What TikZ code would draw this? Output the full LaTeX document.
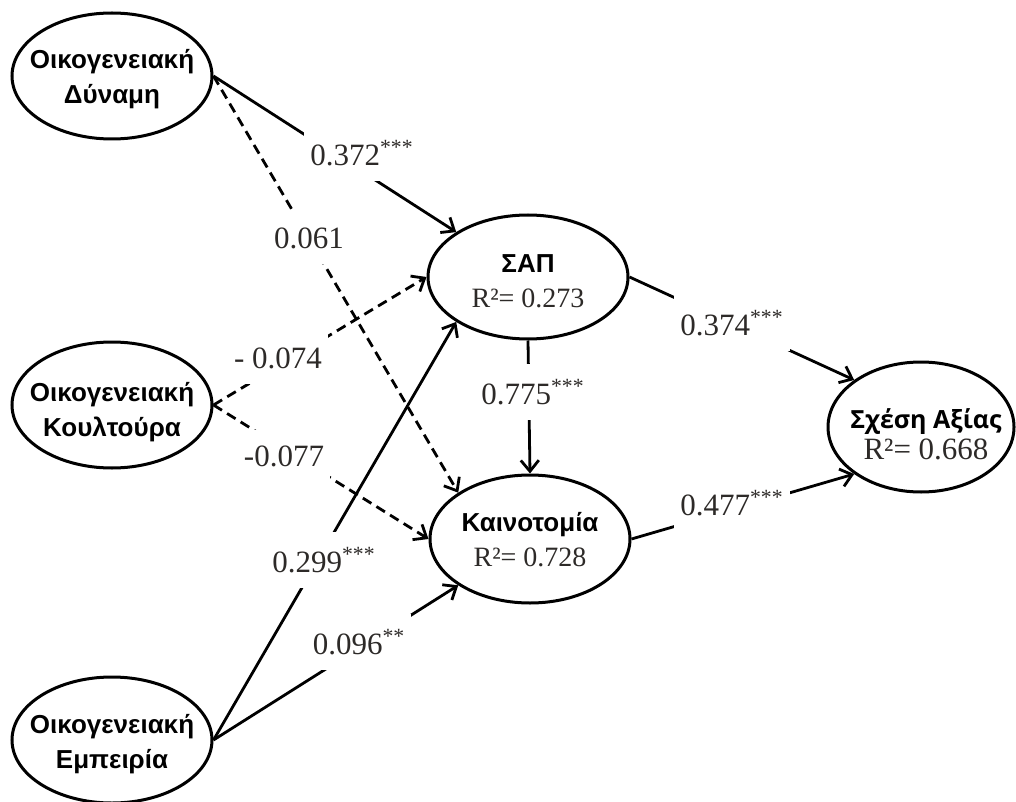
\documentclass[tikz,border=0pt]{standalone}
\usepackage{fontspec}
\setmainfont{Liberation Serif}
\newfontfamily\varfont{Liberation Sans}
\newfontfamily\depfont{Open Sans}
\usepackage{tikz}
\usetikzlibrary{shapes.geometric, arrows.meta}
\definecolor{numgray}{RGB}{45,42,40}
\newcommand{\rsq}[2][14]{{\rmfamily\mdseries\fontsize{#1}{#1}\selectfont\color{numgray}R²= #2}}

\tikzset{
  latent/.style={ellipse, draw=black, line width=1.5pt, minimum width=100pt, minimum height=63pt, inner sep=0pt},
  vname/.style={align=center, inner sep=0pt, font=\varfont\bfseries\fontsize{13}{17.5}\selectfont},
  coef/.style={fill=white, inner xsep=3pt, inner ysep=7.5pt, text=numgray, font=\fontsize{15.5}{16}\selectfont},
  path/.style={line width=1.4pt, -{Straight Barb[length=5.5pt,width=9pt]}},
  nspath/.style={path, dash pattern=on 5pt off 3pt}
}

\begin{document}
\begin{tikzpicture}[x=0.5pt,y=-0.5pt]
\useasboundingbox (0,0) rectangle (1016,802);

% latent variables
\node[latent] (dyn) at (112,76) {};
\node[latent] (kou) at (112,405) {};
\node[latent] (emp) at (112,740) {};
\node[latent, minimum height=62pt] (sap) at (528,277) {};
\node[latent, minimum height=64pt] (kai) at (530,539) {};
\node[latent, minimum width=93pt, minimum height=65pt] (sxe) at (921,427) {};

\node[vname] (dyn-t) at (112,79) {Οικογενειακή\\Δύναμη};
\node[vname] (kou-t) at (112,412) {Οικογενειακή\\Κουλτούρα};
\node[vname] (emp-t) at (112,744) {Οικογενειακή\\Εμπειρία};
\node[vname] (sap-t) at (528,281) {ΣΑΠ\\\rsq{0.273}};
\node[vname] (kai-t) at (530,540) {Καινοτομία\\\rsq{0.728}};
\node[vname, font=\depfont\bfseries\fontsize{12.5}{15.5}\selectfont] (sxe-t) at (926,434) {Σχέση Αξίας\\\rsq[15.5]{0.668}};

% paths
\draw[path] (dyn.east) -- (sap.north west);
\draw[nspath] (dyn.east) -- (kai.north west);
\draw[nspath] (kou.east) -- (sap.west);
\draw[nspath] (kou.east) -- (kai.west);
\draw[path] (emp.east) -- (sap.south west);
\draw[path] (emp.east) -- (kai.south west);
\draw[path] (sap.south) -- (kai.north);
\draw[path] (sap.east) -- (sxe.north west);
\draw[path] (kai.east) -- (sxe.south west);

% coefficients
\node[coef] (c-dyn-sap) at (362,153) {0.372\textsuperscript{***}};
\node[coef] (c-dyn-kai) at (309,238) {0.061};
\node[coef] (c-kou-sap) at (278,358) {- 0.074};
\node[coef] (c-kou-kai) at (284,456) {-0.077};
\node[coef] (c-emp-sap) at (324,560) {0.299\textsuperscript{***}};
\node[coef] (c-emp-kai) at (359,642) {0.096\textsuperscript{**}};
\node[coef] (c-sap-kai) at (533,392) {0.775\textsuperscript{***}};
\node[coef] (c-sap-sxe) at (732,323) {0.374\textsuperscript{***}};
\node[coef] (c-kai-sxe) at (732,503) {0.477\textsuperscript{***}};
\end{tikzpicture}
\end{document}
